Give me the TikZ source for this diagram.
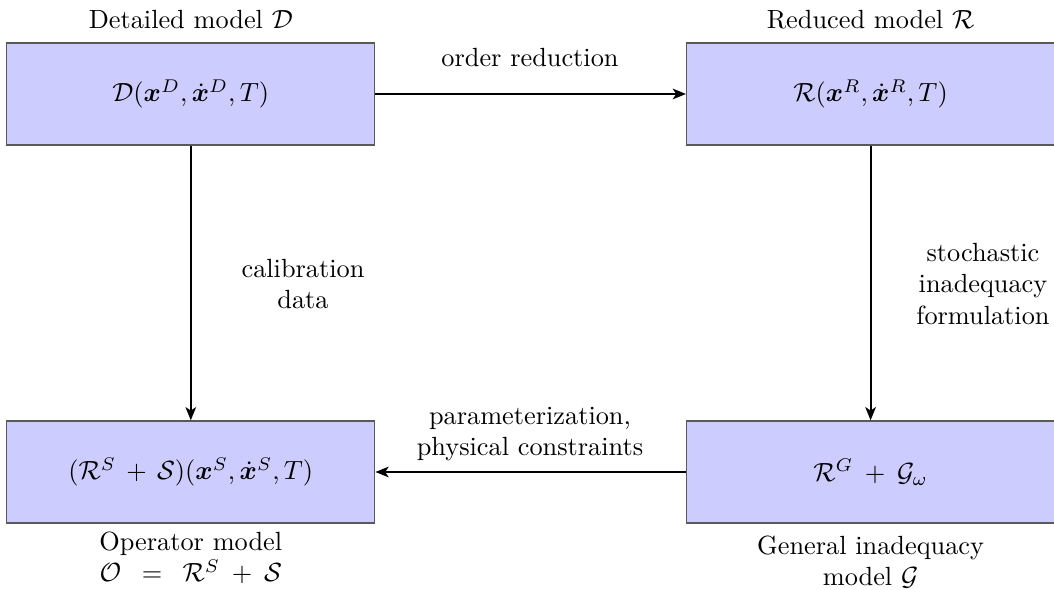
\documentclass[tikz,border=0pt]{standalone}
\usepackage{amsmath,amssymb,bm}
\usetikzlibrary{arrows.meta}
\begin{document}
\begin{tikzpicture}[x=0.3802pt,y=-0.3802pt,
  modelbox/.style={draw=black!65, fill=blue!20, line width=0.5pt,
    minimum width=139.9pt, minimum height=38.8pt, inner sep=0pt},
  flow/.style={-{Stealth[length=5pt,width=4pt,inset=1.3pt]}, line width=0.8pt},
  caption/.style={align=center, inner sep=0pt},
]
\useasboundingbox (0,0) rectangle (1054,590);
\node[modelbox] (D) at (190.8,94) {$\mathcal{D}(\bm{x}^D,\dot{\bm{x}}^D,T)$};
\node[modelbox] (R) at (870.6,94) {$\mathcal{R}(\bm{x}^R,\dot{\bm{x}}^R,T)$};
\node[modelbox] (S) at (190.8,472) {$(\mathcal{R}^S\,+\,\mathcal{S})(\bm{x}^S,\dot{\bm{x}}^S,T)$};
\node[modelbox] (G) at (870.6,472) {$\mathcal{R}^G\:+\:\mathcal{G}_\omega$};

\node[caption] (Dlab) at (190.8,20) {Detailed model $\mathcal{D}$};
\node[caption] (Rlab) at (870.6,20) {Reduced model $\mathcal{R}$};
\node[caption] (Slab) at (190.8,558) {Operator model\\$\mathcal{O}\enspace=\enspace\mathcal{R}^S\:+\:\mathcal{S}$};
\node[caption] (Glab) at (870.6,562) {General inadequacy\\model $\mathcal{G}$};

\draw[flow] (D) -- (R);
\draw[flow] (D) -- (S);
\draw[flow] (R) -- (G);
\draw[flow] (G) -- (S);

\node[caption] (l1) at (530,58) {order reduction};
\node[caption] (l2) at (303,284) {calibration\\data};
\node[caption] (l3) at (983,284) {stochastic\\inadequacy\\formulation};
\node[caption] (l4) at (530,434) {parameterization,\\physical constraints};
\end{tikzpicture}
\end{document}
